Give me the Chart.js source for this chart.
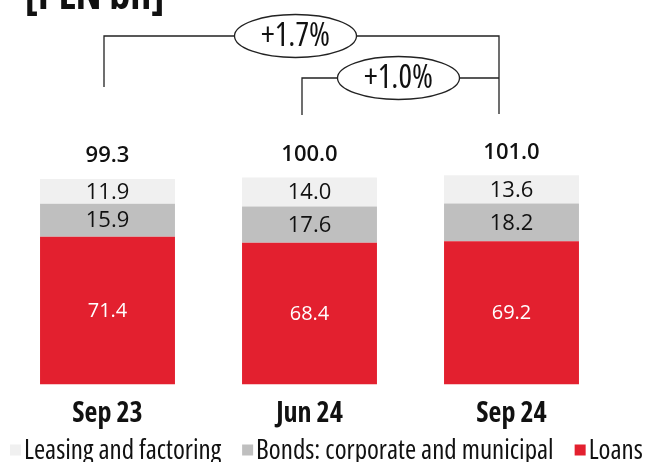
<!DOCTYPE html>
<html>
<head>
<meta charset="utf-8">
<script src="https://cdn.jsdelivr.net/npm/chart.js@4"></script>
<style>
  html, body { margin: 0; padding: 0; background: #fff; }
  #wrap { width: 646px; height: 462px; position: relative; }
</style>
</head>
<body>
<div id="wrap"><canvas id="portfolioChart" width="646" height="462"></canvas></div>
<script>
const periods = ['Sep 23', 'Jun 24', 'Sep 24'];
const loans = [71.4, 68.4, 69.2];
const bonds = [15.9, 17.6, 18.2];
const leasing = [11.9, 14.0, 13.6];
const totals = [99.3, 100.0, 101.0];
const growthLabels = ['+1.7%', '+1.0%'];

const COND = "'Open Sans'";          // used with the "condensed" stretch keyword
const NUMFONT = "'Open Sans', sans-serif";

// value labels inside segments and totals above the stacks
const valueLabels = {
    id: 'valueLabels',
    afterDatasetsDraw(chart) {
        const ctx = chart.ctx;
        ctx.save();
        ctx.textAlign = 'center';
        ctx.textBaseline = 'middle';
        chart.data.datasets.forEach((ds, di) => {
            const meta = chart.getDatasetMeta(di);
            meta.data.forEach((bar, i) => {
                const mid = (bar.y + bar.base) / 2;
                ctx.fillStyle = ds.labelColor;
                ctx.font = ds.labelFont;
                ctx.fillText(ds.data[i].toFixed(1), bar.x, mid + 1);
            });
        });
        const topMeta = chart.getDatasetMeta(chart.data.datasets.length - 1);
        ctx.fillStyle = '#111';
        ctx.font = '600 22px ' + NUMFONT;
        topMeta.data.forEach((bar, i) => {
            ctx.fillText(totals[i].toFixed(1), bar.x, bar.y - 23);
        });
        ctx.restore();
    }
};

// growth brackets, title and legend
const decorations = {
    id: 'decorations',
    afterDraw(chart) {
        const ctx = chart.ctx;
        const xs = chart.scales.x;
        const x0 = xs.getPixelForValue(0) - 3.5;
        const x1 = xs.getPixelForValue(1) - 7.5;
        const x2 = xs.getPixelForValue(2) - 12.5;
        ctx.save();

        // title, partly above the top edge
        ctx.fillStyle = '#111';
        ctx.font = 'condensed bold 42px ' + COND;
        ctx.textAlign = 'left';
        ctx.textBaseline = 'alphabetic';
        ctx.fillText('[PLN bn]', 25, 9);

        ctx.strokeStyle = '#222';
        ctx.lineWidth = 1.3;
        ctx.beginPath();
        ctx.moveTo(x0, 87); ctx.lineTo(x0, 36); ctx.lineTo(x2, 36); ctx.lineTo(x2, 114);
        ctx.moveTo(x1, 115); ctx.lineTo(x1, 78); ctx.lineTo(x2, 78);
        ctx.stroke();

        const ovals = [[295.5, 36], [398.5, 78]];
        ctx.font = 'condensed 32px ' + COND;
        ctx.textAlign = 'center';
        ctx.textBaseline = 'middle';
        ovals.forEach(([cx, cy], i) => {
            ctx.beginPath();
            ctx.ellipse(cx, cy, 61, 21.5, 0, 0, Math.PI * 2);
            ctx.fillStyle = '#fff';
            ctx.fill();
            ctx.stroke();
            ctx.fillStyle = '#111';
            ctx.fillText(growthLabels[i], cx, cy + 1);
        });

        // legend
        ctx.font = 'condensed 27px ' + COND;
        ctx.textAlign = 'left';
        ctx.textBaseline = 'middle';
        let lx = 10;
        const ly = 450;
        chart.data.datasets.slice().reverse().forEach(ds => {
            ctx.fillStyle = ds.backgroundColor;
            ctx.fillRect(lx, ly - 5.5, 11, 11);
            lx += 14;
            ctx.fillStyle = '#111';
            ctx.fillText(ds.label, lx, ly + 1);
            lx += ctx.measureText(ds.label).width + 21;
        });
        ctx.restore();
    }
};

new Chart(document.getElementById('portfolioChart'), {
    type: 'bar',
    data: {
        labels: periods,
        datasets: [
            { label: 'Loans', data: loans, backgroundColor: '#e3202f',
              labelColor: '#fff', labelFont: '20px ' + NUMFONT },
            { label: 'Bonds: corporate and municipal', data: bonds, backgroundColor: '#bfbfbf',
              labelColor: '#111', labelFont: '500 22px ' + NUMFONT },
            { label: 'Leasing and factoring', data: leasing, backgroundColor: '#f0f0f0',
              labelColor: '#111', labelFont: '500 22px ' + NUMFONT }
        ]
    },
    options: {
        responsive: false,
        animation: false,
        layout: { padding: { left: 6.5, right: 33.5, top: 105, bottom: 18 } },
        datasets: { bar: { categoryPercentage: 1, barPercentage: 0.668 } },
        plugins: { legend: { display: false }, tooltip: { enabled: false } },
        scales: {
            x: {
                stacked: true,
                grid: { display: false, drawTicks: false },
                border: { display: false },
                ticks: { padding: 13, color: '#111', font: { family: COND, size: 28, weight: 'condensed bold' } }
            },
            y: { stacked: true, display: false, min: 0, max: 135 }
        }
    },
    plugins: [valueLabels, decorations]
});
</script>
</body>
</html>
